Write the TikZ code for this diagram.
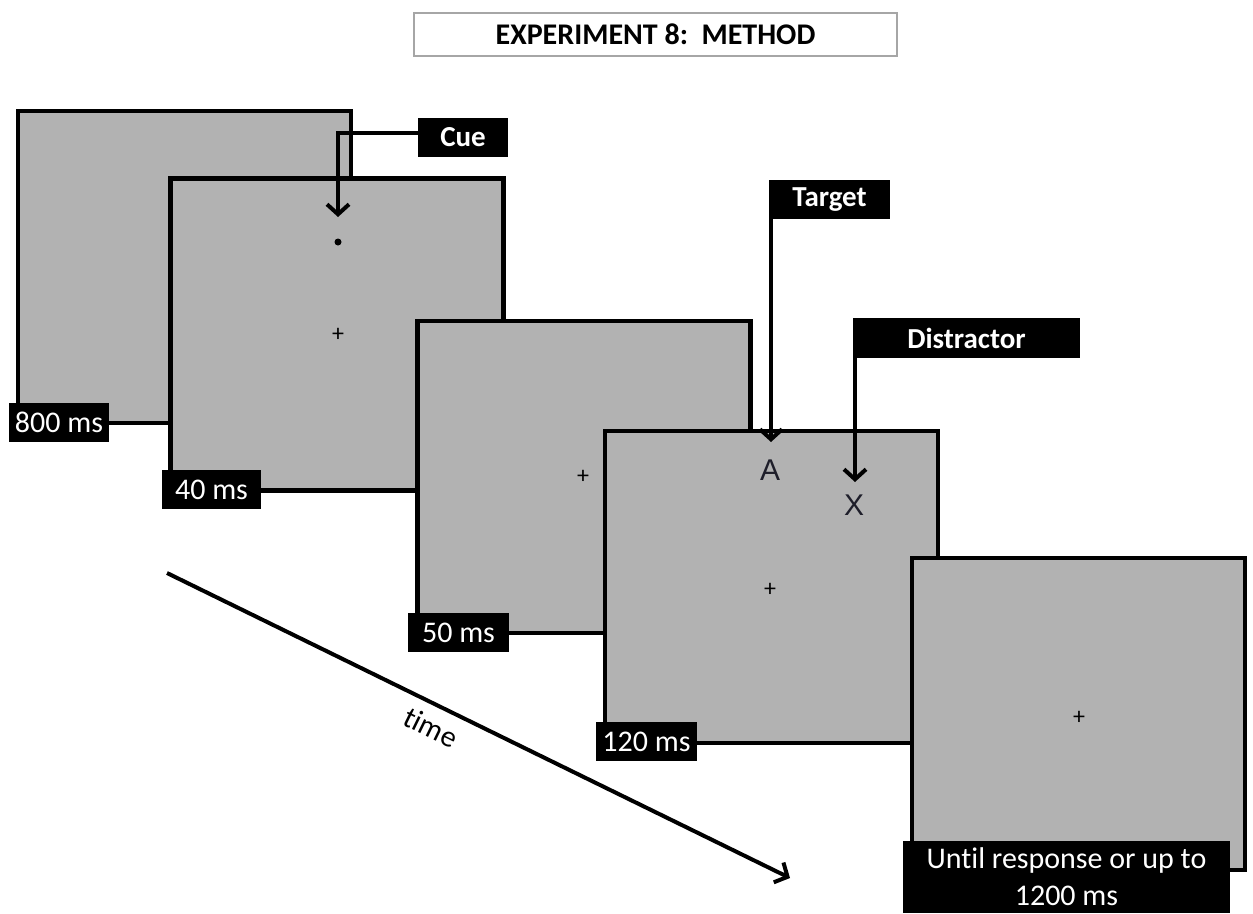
\documentclass[tikz,border=0pt]{standalone}
\usepackage{fontspec}
\setmainfont{Carlito}[Ligatures=NoCommon]
\newfontfamily\stimfont{Liberation Sans}
\usetikzlibrary{arrows.meta}
\definecolor{scrgray}{HTML}{B2B2B2}
\definecolor{titlegray}{HTML}{A6A6A6}
\definecolor{stimcol}{HTML}{1E1E2A}
\begin{document}
\begin{tikzpicture}[x=1pt,y=-1pt,
  screen/.style={draw=black, line width=4.5pt, fill=scrgray, minimum width=333pt, minimum height=312pt, inner sep=0pt},
  dur/.style={fill=black, text=white, inner sep=0pt, font=\fontsize{30}{37}\selectfont, minimum height=39pt},
  tag/.style={fill=black, text=white, inner sep=0pt, font=\bfseries\fontsize{29}{35}\selectfont, minimum height=39pt},
  fix/.style={font=\fontsize{24}{24}\selectfont, inner sep=0pt},
  stim/.style={font=\stimfont\fontsize{30}{30}\selectfont, text=stimcol, inner sep=0pt},
  arr/.style={line width=4pt, -{Straight Barb[length=10pt,width=22pt]}}
]
\useasboundingbox (0,0) rectangle (1253,913);
\fill[white] (0,0) rectangle (1253,913);

% title
\node[draw=titlegray, line width=1.2pt, fill=white, minimum width=483pt, minimum height=43pt, inner sep=0pt,
      font=\bfseries\fontsize{30}{32}\selectfont] (title) at (655.5,34.5) {EXPERIMENT 8:\ \ METHOD};

% screens
\node[screen] (s1) at (184.5,267) {};
\node[screen] (s2) at (337,334.5) {};
\node[screen] (s3) at (584,477) {};
\node[screen] (s4) at (771.5,587) {};
\node[screen] (s5) at (1078.5,714) {};

% fixation crosses and stimuli
\node[fix] (f2) at (338,335) {+};
\node[fix] (f3) at (583,477) {+};
\node[fix] (f4) at (770,590) {+};
\node[fix] (f5) at (1079,718) {+};
\fill (338,242) circle (3.5);
\node[stim] (A) at (770,470) {A};
\node[stim] (X) at (854,505) {X};

% durations
\node[dur, minimum width=100pt] (d1) at (59,422) {800 ms};
\node[dur, minimum width=99pt] (d2) at (211.5,489.5) {40 ms};
\node[dur, minimum width=101pt] (d3) at (458.5,632.5) {50 ms};
\node[dur, minimum width=101pt] (d4) at (646.5,741.5) {120 ms};
\node[dur, minimum width=327pt, minimum height=72pt, align=center] (d5) at (1066.5,877) {Until response or up to\\1200 ms};

% tags
\node[tag, minimum width=90pt] (cue) at (463,137.5) {Cue};
\node[tag, minimum width=121pt] (target) at (829.5,199.5) {Target};
\node[tag, minimum width=227pt, minimum height=40pt] (distractor) at (966.5,338) {Distractor};

% pointer arrows
\coordinate (cuetip) at (338,217);
\coordinate (ttip) at (771,442);
\coordinate (dtip) at (855,482);
\draw[arr] ([yshift=5pt]cue.west) -| (cuetip);
\draw[arr] (target.south west -| ttip) -- (ttip);
\draw[arr] (distractor.south west -| dtip) -- (dtip);

% time arrow
\coordinate (t0) at (167,573);
\coordinate (t1) at (790,878);
\draw[arr] (t0) -- node[sloped, below=10pt, pos=0.44, inner sep=0pt, font=\fontsize{30}{32}\selectfont] (timelbl) {time} (t1);
\end{tikzpicture}
\end{document}
